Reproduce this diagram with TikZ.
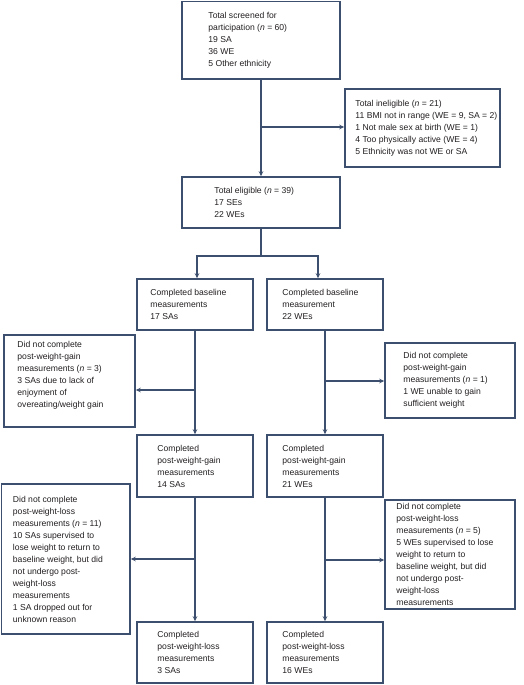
\documentclass[tikz,border=0pt]{standalone}
\usepackage{fontspec}
\setmainfont{Liberation Sans}
\usetikzlibrary{arrows.meta,calc}
\definecolor{lineblue}{HTML}{3D4F6E}
\definecolor{txt}{HTML}{231F20}
\tikzset{
  box/.style={draw=lineblue, line width=1.5pt, rectangle, inner sep=0pt},
  txtnode/.style={anchor=west, align=left, inner sep=0pt, text=txt,
    font=\fontsize{8.6}{12}\selectfont},
  conn/.style={draw=lineblue, line width=1.5pt},
  arr/.style={conn, -{Stealth[length=5pt,width=4.5pt]}}
}
\newcommand{\nit}{\textit{n}}
\begin{document}
\begin{tikzpicture}[x=1pt,y=-1pt]
\useasboundingbox (0,0) rectangle (524,685);
% boxes
\node[box, minimum width=158pt, minimum height=77.5pt] (scr) at (261,40.25) {};
\node[box, minimum width=155pt, minimum height=78pt] (inel) at (422.5,128) {};
\node[box, minimum width=158pt, minimum height=51pt] (elig) at (261,202.5) {};
\node[box, minimum width=116pt, minimum height=51pt] (baseL) at (195,304.5) {};
\node[box, minimum width=116pt, minimum height=51pt] (baseR) at (325,304.5) {};
\node[box, minimum width=131pt, minimum height=92pt] (gexL) at (69.5,381) {};
\node[box, minimum width=130pt, minimum height=75pt] (gexR) at (450,380.5) {};
\node[box, minimum width=116pt, minimum height=62pt] (midL) at (195,466) {};
\node[box, minimum width=116pt, minimum height=62pt] (midR) at (325,466) {};
\node[box, minimum width=128.5pt, minimum height=150pt] (lexL) at (65.75,559) {};
\node[box, minimum width=130pt, minimum height=109pt] (lexR) at (450,554.5) {};
\node[box, minimum width=116pt, minimum height=61pt] (endL) at (195,652.5) {};
\node[box, minimum width=116pt, minimum height=61pt] (endR) at (325,652.5) {};
% texts
\node[txtnode] (tscr) at ($(scr.west)+(27,0)$) {Total screened for\\participation (\nit{} = 60)\\19 SA\\36 WE\\5 Other ethnicity};
\node[txtnode] (tinel) at ($(inel.west)+(11,0)$) {Total ineligible (\nit{} = 21)\\11 BMI not in range (WE = 9, SA = 2)\\1 Not male sex at birth (WE = 1)\\4 Too physically active (WE = 4)\\5 Ethnicity was not WE or SA};
\node[txtnode] (telig) at ($(elig.west)+(33,0)$) {Total eligible (\nit{} = 39)\\17 SEs\\22 WEs};
\node[txtnode] (tbaseL) at ($(baseL.west)+(14,0)$) {Completed baseline\\measurements\\17 SAs};
\node[txtnode] (tbaseR) at ($(baseR.west)+(16,0)$) {Completed baseline\\measurement\\22 WEs};
\node[txtnode] (tgexL) at ($(gexL.west)+(14,-6)$) {Did not complete\\post-weight-gain\\measurements (\nit{} = 3)\\3 SAs due to lack of\\enjoyment of\\overeating/weight gain};
\node[txtnode] (tgexR) at ($(gexR.west)+(19,0)$) {Did not complete\\post-weight-gain\\measurements (\nit{} = 1)\\1 WE unable to gain\\sufficient weight};
\node[txtnode] (tmidL) at ($(midL.west)+(21,0)$) {Completed\\post-weight-gain\\measurements\\14 SAs};
\node[txtnode] (tmidR) at ($(midR.west)+(16,0)$) {Completed\\post-weight-gain\\measurements\\21 WEs};
\node[txtnode] (tlexL) at ($(lexL.west)+(12,0)$) {Did not complete\\post-weight-loss\\measurements (\nit{} = 11)\\10 SAs supervised to\\lose weight to return to\\baseline weight, but did\\not undergo post-\\weight-loss\\measurements\\1 SA dropped out for\\unknown reason};
\node[txtnode] (tlexR) at ($(lexR.west)+(12,0)$) {Did not complete\\post-weight-loss\\measurements (\nit{} = 5)\\5 WEs supervised to lose\\weight to return to\\baseline weight, but did\\not undergo post-\\weight-loss\\measurements};
\node[txtnode] (tendL) at ($(endL.west)+(21,0)$) {Completed\\post-weight-loss\\measurements\\3 SAs};
\node[txtnode] (tendR) at ($(endR.west)+(16,0)$) {Completed\\post-weight-loss\\measurements\\16 WEs};
% junction coordinates
\coordinate (j1) at (261,127);
\coordinate (brL) at (197,256);
\coordinate (brR) at (318,256);
\coordinate (j2) at (195,390);
\coordinate (j3) at (325,381);
\coordinate (j4) at (195,559);
\coordinate (j5) at (325,560);
% connectors
\draw[arr] (scr.south) -- (elig.north);
\draw[arr] (j1) -- (j1 -| inel.west);
\draw[conn] (elig.south) -- (elig.south |- brL);
\draw[conn, line cap=rect] (brL) -- (brR);
\draw[arr] (brL) -- (brL |- baseL.north);
\draw[arr] (brR) -- (brR |- baseR.north);
\draw[arr] (baseL.south) -- (midL.north);
\draw[arr] (j2) -- (j2 -| gexL.east);
\draw[arr] (baseR.south) -- (midR.north);
\draw[arr] (j3) -- (j3 -| gexR.west);
\draw[arr] (midL.south) -- (endL.north);
\draw[arr] (j4) -- (j4 -| lexL.east);
\draw[arr] (midR.south) -- (endR.north);
\draw[arr] (j5) -- (j5 -| lexR.west);
\end{tikzpicture}
\end{document}
